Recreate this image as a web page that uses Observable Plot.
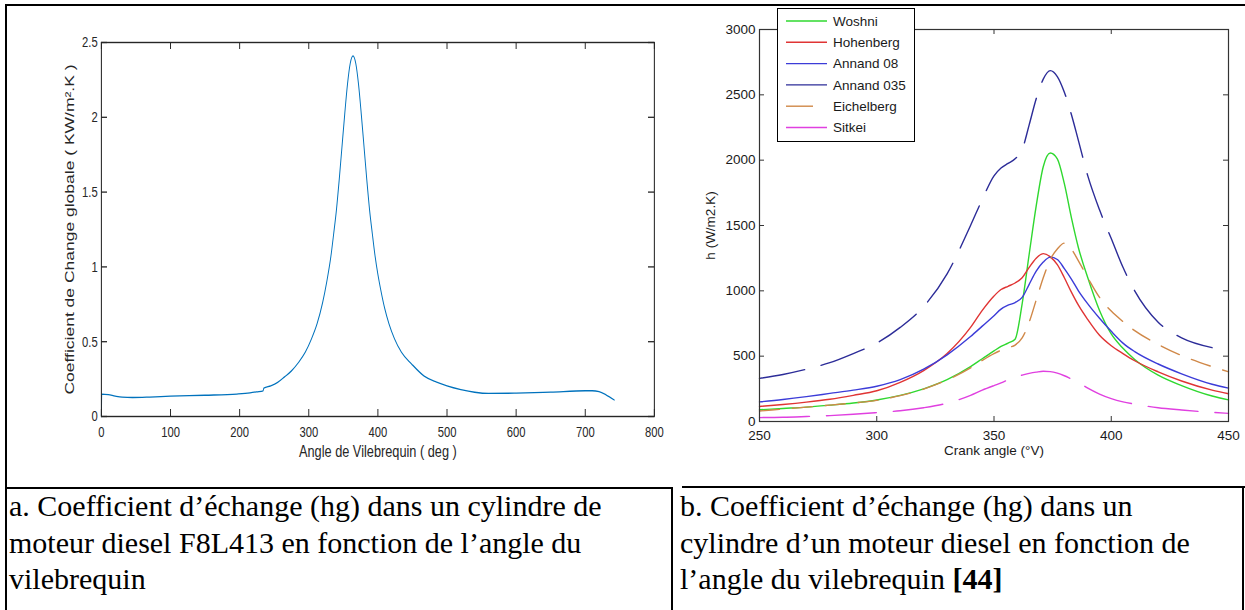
<!DOCTYPE html>
<html>
<head>
<meta charset="utf-8">
<script src="https://cdn.jsdelivr.net/npm/d3@7"></script>
<script src="https://cdn.jsdelivr.net/npm/@observablehq/plot@0.6"></script>
<style>
html,body{margin:0;padding:0;background:#fff;}
body{width:1245px;height:610px;overflow:hidden;position:relative;}
.ln{position:absolute;background:#000;}
#chartA{position:absolute;left:0;top:0;transform-origin:0 0;transform:scaleX(0.75);}
#chartB{position:absolute;left:690px;top:0;}
.cap{position:absolute;font-family:"Liberation Serif","Times New Roman",serif;font-size:30px;line-height:36.5px;color:#000;white-space:nowrap;}
#legend{position:absolute;left:777px;top:8px;width:136px;height:132px;border:1px solid #000;background:#fff;}
</style>
</head>
<body>
<div id="chartA"></div>
<div id="chartB"></div>
<div id="legend"></div>
<div class="ln" style="left:5px;top:4px;width:1240px;height:1.5px"></div>
<div class="ln" style="left:5px;top:4px;width:2px;height:606px"></div>
<div class="ln" style="left:5px;top:487px;width:667px;height:2px"></div>
<div class="ln" style="left:682px;top:486px;width:563px;height:2px"></div>
<div class="ln" style="left:671px;top:487px;width:2px;height:123px"></div>
<div class="ln" style="left:1242px;top:486px;width:2px;height:124px"></div>
<div class="cap" id="capA" style="left:9px;top:488px"></div>
<div class="cap" id="capB" style="left:680px;top:488px"></div>
<script>
// ---------- Chart a: global heat transfer coefficient ----------
const angleA = [0,0.5,10,20,30,45,70,100,150,196,215,225,234,235,245,255,265,275,285,295,304,312,320,326,332,336,340,344,348,352,356,360,364,368,372,376,380,384,388,392,396,400,404,410,416,424,434,449,467,485,500,520,540,560,600,650,700,710,720,730,742];
const hgA = [0,0.150,0.146,0.136,0.129,0.127,0.130,0.136,0.142,0.150,0.158,0.165,0.172,0.190,0.205,0.228,0.265,0.305,0.36,0.43,0.52,0.62,0.76,0.90,1.07,1.22,1.38,1.58,1.80,2.02,2.22,2.36,2.41,2.36,2.22,2.02,1.80,1.58,1.38,1.22,1.07,0.95,0.85,0.72,0.62,0.52,0.43,0.35,0.27,0.23,0.205,0.18,0.162,0.154,0.156,0.163,0.172,0.172,0.166,0.145,0.11];
const xTicksA = [0,100,200,300,400,500,600,700,800];
const yTicksA = [0,0.5,1,1.5,2,2.5];
const xLabelA = "Angle de Vilebrequin ( deg )";
const yLabelA = "Coefficient de Change globale ( KW/m².K )";

// ---------- Chart b: correlations ----------
const crankB = [250,260,270,280,290,300,310,320,330,340,345,350,353,356,359,362,365,368,371,374,377,380,383,386,390,395,400,405,410,420,430,443,450];
const woshni     = [90,100,110,125,142,165,200,250,320,420,480,540,575,600,630,900,1280,1650,1950,2055,2010,1820,1560,1330,1100,850,670,560,475,355,275,195,165];
const hohenberg  = [115,130,148,170,200,235,300,390,520,720,850,960,1010,1035,1060,1100,1180,1250,1285,1260,1200,1100,990,890,780,660,580,520,465,380,310,240,212];
const annand08   = [150,168,190,215,240,270,320,400,510,650,730,810,860,890,910,950,1050,1150,1220,1258,1240,1170,1090,1000,900,790,690,600,535,440,365,285,255];
const annand035  = [330,360,400,450,520,600,720,880,1130,1500,1700,1880,1940,1975,2010,2080,2270,2470,2620,2685,2640,2520,2350,2150,1880,1620,1400,1180,1000,760,640,565,null];
const eichelberg = [80,95,110,125,142,162,198,248,318,410,468,520,545,565,585,640,760,930,1100,1240,1320,1365,1320,1230,1100,950,845,765,695,590,505,420,380];
const sitkei     = [30,32,38,45,55,68,82,105,140,200,240,275,295,320,340,355,368,378,385,382,370,350,325,300,255,210,175,150,133,105,88,70,62];
const seriesNamesB = ["Woshni","Hohenberg","Annand 08","Annand 035","Eichelberg","Sitkei"];
const seriesValuesB = [woshni,hohenberg,annand08,annand035,eichelberg,sitkei];
const xTicksB = [250,300,350,400,450];
const yTicksB = [0,500,1000,1500,2000,2500,3000];
const xLabelB = "Crank angle (°V)";
const yLabelB = "h (W/m2.K)";

// styles (not data)
const styleB = {
  "Woshni":     {stroke:"#2fd82f", dash:null,    legendDash:null},
  "Hohenberg":  {stroke:"#e03434", dash:null,    legendDash:null},
  "Annand 08":  {stroke:"#3c3cd8", dash:null,    legendDash:null},
  "Annand 035": {stroke:"#2c2c98", dash:"46,17", legendDash:null},
  "Eichelberg": {stroke:"#d08848", dash:"20,13", legendDash:"27,14"},
  "Sitkei":     {stroke:"#e040e0", dash:"50,17", legendDash:null}
};

const capA = ["a. Coefficient d’échange (hg) dans un cylindre de","moteur diesel F8L413 en fonction de l’angle du","vilebrequin"];
const capB = ["b. Coefficient d’échange (hg) dans un","cylindre d’un moteur diesel en fonction de","l’angle du vilebrequin "];
const capBRef = "[44]";

// ---------- build chart a ----------
const rowsA = angleA.map((a,i)=>({angle:a, hg:hgA[i]}));
const W1 = 900, H1 = 480, mL1 = 134.7, mR1 = 28, mT1 = 42, mB1 = 64;
const iW1 = W1 - mL1 - mR1, iH1 = H1 - mT1 - mB1;
const inkA = "#262626";
const plotA = Plot.plot({
  width: W1, height: H1, marginLeft: mL1, marginRight: mR1, marginTop: mT1, marginBottom: mB1,
  style: {fontFamily: "'Liberation Sans', Arial, sans-serif", fontSize: "15px", color: inkA, background: "transparent"},
  x: {domain: [0, 800], label: null},
  y: {domain: [0, 2.5], label: null},
  marks: [
    Plot.line(rowsA, {x: "angle", y: "hg", stroke: "#0072BD", strokeWidth: 1.3, curve: "monotone-x"}),
    Plot.axisX(xTicksA, {tickSize: 0, tickPadding: 10, fontSize: 15, fill: inkA, tickFormat: d => String(d), label: null}),
    Plot.axisY(yTicksA, {tickSize: 0, tickPadding: 5, fontSize: 15, fill: inkA, tickFormat: d => String(d), label: null}),
    Plot.tickX(xTicksA, {x: d => d, insetTop: iH1 - 7, stroke: inkA, strokeWidth: 1.3}),
    Plot.tickX(xTicksA, {x: d => d, insetBottom: iH1 - 7, stroke: inkA, strokeWidth: 1.3}),
    Plot.tickY(yTicksA, {y: d => d, insetRight: iW1 - 8, stroke: inkA, strokeWidth: 1.3}),
    Plot.tickY(yTicksA, {y: d => d, insetLeft: iW1 - 8, stroke: inkA, strokeWidth: 1.3}),
    Plot.frame({stroke: inkA, strokeWidth: 1.4}),
    Plot.text([xLabelA], {text: d => d, frameAnchor: "bottom", textAnchor: "middle", dy: 40, fontSize: 17, fill: inkA}),
    Plot.text([yLabelA], {text: d => d, frameAnchor: "left", textAnchor: "middle", dx: -42.7, rotate: -90, fontSize: 17.5, fill: inkA})
  ]
});
document.getElementById("chartA").appendChild(plotA);

// ---------- build chart b ----------
const W2 = 555, H2 = 480, mL2 = 69, mR2 = 17, mT2 = 29, mB2 = 59;
const iW2 = W2 - mL2 - mR2, iH2 = H2 - mT2 - mB2;
const inkB = "#1a1a1a";
const lineMarks = seriesNamesB.map((name, s) => {
  const rows = crankB.map((c,i)=>({crank:c, h:seriesValuesB[s][i]}));
  const st = styleB[name];
  return Plot.line(rows, {x: "crank", y: "h", stroke: st.stroke, strokeWidth: 1.4, curve: "monotone-x",
    strokeDasharray: st.dash, defined: d => d.h != null});
});
const plotB = Plot.plot({
  width: W2, height: H2, marginLeft: mL2, marginRight: mR2, marginTop: mT2, marginBottom: mB2,
  style: {fontFamily: "'Liberation Sans', Arial, sans-serif", fontSize: "13px", color: inkB, background: "transparent"},
  x: {domain: [250, 450], label: null},
  y: {domain: [0, 3000], label: null},
  marks: [
    ...lineMarks,
    Plot.axisX(xTicksB, {tickSize: 0, tickPadding: 9, fontSize: 13.5, fill: inkB, tickFormat: d => String(d), label: null}),
    Plot.axisY(yTicksB, {tickSize: 0, tickPadding: 4, fontSize: 13.5, fill: inkB, tickFormat: d => String(d), label: null}),
    Plot.tickX(xTicksB, {x: d => d, insetTop: iH2 - 5, stroke: "#333"}),
    Plot.tickX(xTicksB, {x: d => d, insetBottom: iH2 - 5, stroke: "#333"}),
    Plot.tickY(yTicksB, {y: d => d, insetRight: iW2 - 5, stroke: "#333"}),
    Plot.tickY(yTicksB, {y: d => d, insetLeft: iW2 - 5, stroke: "#333"}),
    Plot.frame({stroke: "#333", strokeWidth: 1.2}),
    Plot.text([xLabelB], {text: d => d, frameAnchor: "bottom", textAnchor: "middle", dy: 33, fontSize: 13.5, fill: inkB}),
    Plot.text([yLabelB], {text: d => d, frameAnchor: "left", textAnchor: "middle", dx: -49, rotate: -90, fontSize: 13.5, fill: inkB})
  ]
});
document.getElementById("chartB").appendChild(plotB);

// ---------- legend for chart b ----------
const leg = d3.select("#legend").append("svg").attr("width", 136).attr("height", 132)
  .style("font-family", "'Liberation Sans', Arial, sans-serif").style("font-size", "13.5px");
seriesNamesB.forEach((name, i) => {
  const y = 12 + i * 21.3;
  const st = styleB[name];
  leg.append("line").attr("x1", 8).attr("x2", 49).attr("y1", y).attr("y2", y)
    .attr("stroke", st.stroke).attr("stroke-width", 1.4)
    .attr("stroke-dasharray", st.legendDash);
  leg.append("text").attr("x", 55).attr("y", y).attr("dy", "0.35em").attr("fill", inkB).text(name);
});

// ---------- captions ----------
document.getElementById("capA").innerHTML = capA.join("<br>");
document.getElementById("capB").innerHTML = capB.join("<br>") + "<b>" + capBRef + "</b>";
</script>
</body>
</html>
